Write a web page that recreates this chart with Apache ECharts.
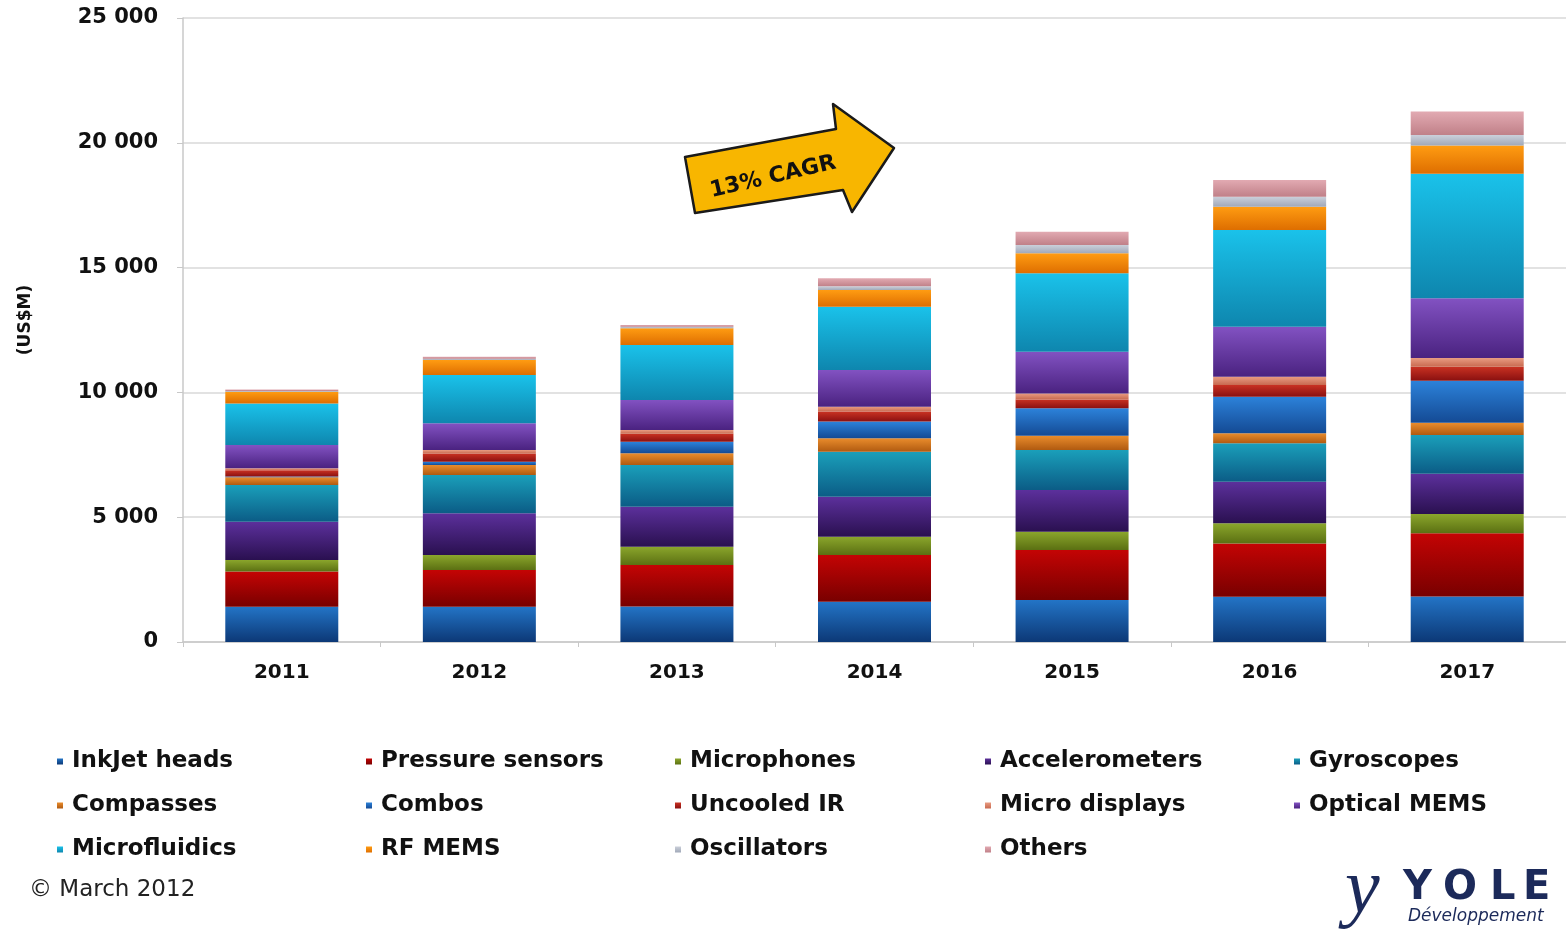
<!DOCTYPE html>
<html>
<head>
<meta charset="utf-8">
<title>MEMS market forecast</title>
<script src="https://cdn.jsdelivr.net/npm/echarts@6/dist/echarts.min.js"></script>
<style>
  html, body { margin: 0; padding: 0; background: #fff; }
  #chart { width: 1566px; height: 952px; }
</style>
</head>
<body>
<div id="chart"></div>
<script>
// categories
const years = ['2011', '2012', '2013', '2014', '2015', '2016', '2017'];

// series values (US$M), bottom of stack first
const inkjetHeads     = [1410, 1410, 1420, 1610, 1680, 1810, 1820];
const pressureSensors = [1410, 1470, 1660, 1880, 2010, 2140, 2540];
const microphones     = [470, 610, 740, 730, 730, 810, 770];
const accelerometers  = [1530, 1670, 1600, 1600, 1670, 1660, 1610];
const gyroscopes      = [1470, 1530, 1670, 1800, 1600, 1540, 1550];
const compasses       = [310, 400, 470, 540, 570, 400, 490];
const combos          = [30, 130, 460, 670, 1100, 1470, 1690];
const uncooledIR      = [250, 330, 320, 400, 360, 470, 560];
const microDisplays   = [80, 140, 150, 200, 240, 330, 350];
const opticalMEMS     = [930, 1070, 1210, 1470, 1670, 2000, 2390];
const microfluidics   = [1670, 1940, 2200, 2530, 3140, 3880, 4990];
const rfMEMS          = [470, 600, 670, 670, 800, 930, 1130];
const oscillators     = [30, 50, 60, 150, 340, 400, 420];
const others          = [60, 80, 70, 320, 530, 670, 940];

// y axis ticks
const yMin = 0, yMax = 25000, yStep = 5000;

const seriesDefs = [
  ['InkJet heads', inkjetHeads, '#2374c6', '#0c3876'],
  ['Pressure sensors', pressureSensors, '#c40404', '#780000'],
  ['Microphones', microphones, '#8ba62c', '#5b7012'],
  ['Accelerometers', accelerometers, '#5c309c', '#2a1050'],
  ['Gyroscopes', gyroscopes, '#1a9fba', '#0b5c86'],
  ['Compasses', compasses, '#e98c2c', '#b05a10'],
  ['Combos', combos, '#2c82da', '#144a94'],
  ['Uncooled IR', uncooledIR, '#c93222', '#8a1010'],
  ['Micro displays', microDisplays, '#e99c82', '#c86a50'],
  ['Optical MEMS', opticalMEMS, '#8252c2', '#4a2280'],
  ['Microfluidics', microfluidics, '#1ac2ea', '#0e86ae'],
  ['RF MEMS', rfMEMS, '#ff9c12', '#de6e00'],
  ['Oscillators', oscillators, '#cbd0da', '#a0a8b8'],
  ['Others', others, '#e2aab2', '#c08088']
];

const font = "'DejaVu Sans', Verdana, sans-serif";

const series = seriesDefs.map(function (d) {
  return {
    name: d[0],
    type: 'bar',
    stack: 'total',
    barWidth: 113,
    data: d[1],
    itemStyle: {
      color: new echarts.graphic.LinearGradient(0, 0, 0, 1, [
        { offset: 0, color: d[2] },
        { offset: 1, color: d[3] }
      ])
    },
    emphasis: { disabled: true }
  };
});

// legend laid out in 5 columns, 3 rows
const legendCols = [
  ['InkJet heads', 'Compasses', 'Microfluidics'],
  ['Pressure sensors', 'Combos', 'RF MEMS'],
  ['Microphones', 'Uncooled IR', 'Oscillators'],
  ['Accelerometers', 'Micro displays', 'Others'],
  ['Gyroscopes', 'Optical MEMS']
];
const legendLeft = [57, 366, 675, 985, 1294];

const legends = legendCols.map(function (names, i) {
  return {
    data: names,
    orient: 'vertical',
    left: legendLeft[i],
    top: 749,
    padding: 0,
    icon: 'rect',
    itemWidth: 6,
    itemHeight: 6,
    itemGap: 19,
    selectedMode: false,
    textStyle: {
      fontFamily: font,
      fontWeight: 'bold',
      fontSize: 23,
      lineHeight: 25,
      color: '#111',
      padding: [0, 0, 0, 4]
    }
  };
});

const chart = echarts.init(document.getElementById('chart'), null, { renderer: 'canvas' });

chart.setOption({
  backgroundColor: '#ffffff',
  animation: false,
  grid: { left: 183, right: 0, top: 18, bottom: 310 },
  legend: legends,
  xAxis: {
    type: 'category',
    data: years,
    axisLine: { lineStyle: { color: '#c8c8c8', width: 1.5 } },
    axisTick: { show: true, length: 5, lineStyle: { color: '#c8c8c8' } },
    axisLabel: {
      margin: 21,
      fontFamily: font,
      fontWeight: 'bold',
      fontSize: 20,
      color: '#111'
    }
  },
  yAxis: {
    type: 'value',
    min: yMin,
    max: yMax,
    interval: yStep,
    axisLine: { show: true, lineStyle: { color: '#c8c8c8', width: 1.5 } },
    axisTick: { show: true, length: 6, lineStyle: { color: '#c8c8c8' } },
    splitLine: { show: true, lineStyle: { color: '#d8d8d8', width: 1.5 } },
    axisLabel: {
      margin: 25,
      fontFamily: font,
      fontWeight: 'bold',
      fontSize: 21,
      color: '#111',
      formatter: function (v) {
        return String(v).replace(/\B(?=(\d{3})+(?!\d))/g, ' ');
      }
    }
  },
  series: series,
  graphic: [
    {
      type: 'text',
      x: 26,
      y: 320,
      rotation: Math.PI / 2,
      style: {
        text: '(US$M)',
        fontFamily: font,
        fontWeight: 'bold',
        fontSize: 17,
        fill: '#111',
        align: 'center',
        verticalAlign: 'middle'
      }
    },
    {
      type: 'polygon',
      shape: {
        points: [[685, 157], [836, 129], [833, 104], [894, 148], [852, 212], [843, 190], [695, 213]]
      },
      style: { fill: '#f8b600', stroke: '#1a1a1a', lineWidth: 2.5, lineJoin: 'round' },
      z: 100
    },
    {
      type: 'text',
      x: 773,
      y: 177,
      rotation: 13 * Math.PI / 180,
      style: {
        text: '13% CAGR',
        fontFamily: font,
        fontWeight: 'bold',
        fontSize: 22,
        fill: '#111',
        align: 'center',
        verticalAlign: 'middle'
      },
      z: 101
    },
    {
      type: 'text',
      left: 29,
      top: 879,
      style: {
        text: '\u00a9 March 2012',
        fontFamily: font,
        fontSize: 23,
        fill: '#222'
      }
    },
    {
      type: 'text',
      left: 1345,
      top: 852,
      style: {
        text: 'y',
        fontFamily: "'Liberation Serif', serif",
        fontStyle: 'italic',
        fontSize: 78,
        fill: '#1c2a5a'
      }
    },
    {
      type: 'text',
      left: 1403,
      top: 869,
      style: { text: 'Y', fontFamily: font, fontWeight: 'bold', fontSize: 40, fill: '#1c2a5a' }
    },
    {
      type: 'text',
      left: 1443,
      top: 869,
      style: { text: 'O', fontFamily: font, fontWeight: 'bold', fontSize: 40, fill: '#1c2a5a' }
    },
    {
      type: 'text',
      left: 1490,
      top: 869,
      style: { text: 'L', fontFamily: font, fontWeight: 'bold', fontSize: 40, fill: '#1c2a5a' }
    },
    {
      type: 'text',
      left: 1523,
      top: 869,
      style: { text: 'E', fontFamily: font, fontWeight: 'bold', fontSize: 40, fill: '#1c2a5a' }
    },
    {
      type: 'text',
      left: 1408,
      top: 908,
      style: {
        text: 'D\u00e9veloppement',
        fontFamily: font,
        fontStyle: 'italic',
        fontSize: 17,
        fill: '#1c2a5a'
      }
    }
  ]
});
</script>
</body>
</html>
